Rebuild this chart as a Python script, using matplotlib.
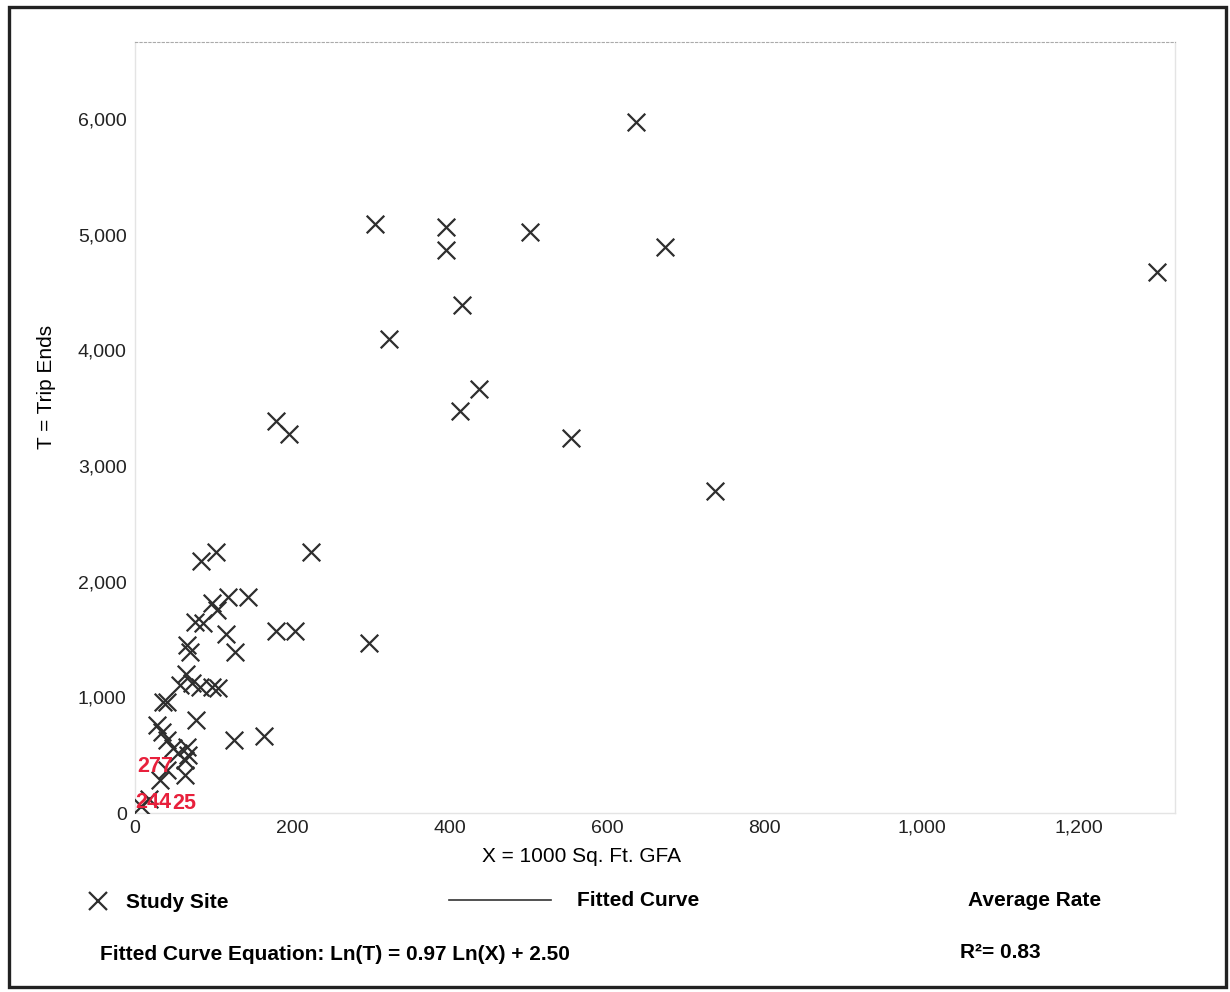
import matplotlib
matplotlib.use("Agg")
import matplotlib.pyplot as plt
from matplotlib.lines import Line2D
from matplotlib.patches import Rectangle

plt.rcParams['font.family'] = ['Liberation Sans', 'DejaVu Sans']

# study sites: X = 1000 sq. ft. GFA, T = trip ends
site_x = [637, 305, 395, 395, 502, 674, 1299, 416, 323, 437, 413, 554, 737,
          179, 196, 224, 298, 103, 84, 179, 203, 144, 118, 164, 126,
          98, 104, 76, 86, 116, 66, 70, 127, 65,
          57, 72, 83, 98, 106, 36, 41,
          78, 28, 34, 41, 48, 66, 67, 64, 64, 41, 32, 55, 8, 18]
site_t = [5972, 5091, 5065, 4866, 5022, 4892, 4676, 4391, 4097, 3665, 3474, 3241, 2783,
          3388, 3276, 2256, 1469, 2256, 2178, 1573, 1573, 1867, 1867, 666, 631,
          1815, 1755, 1651, 1642, 1547, 1452, 1392, 1392, 1200,
          1106, 1124, 1089, 1089, 1080, 959, 962,
          804, 761, 700, 631, 562, 570, 501, 458, 328, 372, 285, 520, 60, 120]

# red site id labels near the origin
id_labels = ['277', '244', '25']
id_x = [3, 0, 47]
id_y = [400, 95, 86]

x_ticks = [0, 200, 400, 600, 800, 1000, 1200]
x_ticklabels = ['0', '200', '400', '600', '800', '1,000', '1,200']
y_ticks = [0, 1000, 2000, 3000, 4000, 5000, 6000]
y_ticklabels = ['0', '1,000', '2,000', '3,000', '4,000', '5,000', '6,000']

W, H = 1230, 992
fig = plt.figure(figsize=(W / 100, H / 100), dpi=100)
ax = fig.add_axes([135 / W, 1 - 813 / H, (1175 - 135) / W, (813 - 42) / H])

ax.scatter(site_x, site_t, marker='x', s=160, color='#2e2e2e', linewidths=1.6, zorder=3)
for lab, lx, ly in zip(id_labels, id_x, id_y):
    ax.text(lx, ly, lab, color='#e8203c', fontsize=15.5, fontweight='bold',
            ha='left', va='center', zorder=4)

ax.set_xlim(0, 1322)
ax.set_ylim(0, 6664)
ax.set_xticks(x_ticks)
ax.set_xticklabels(x_ticklabels)
ax.set_yticks(y_ticks)
ax.set_yticklabels(y_ticklabels)
ax.tick_params(length=0, labelsize=14, colors='#222222')
ax.tick_params(axis='y', pad=6)
ax.tick_params(axis='x', pad=5)

for side in ['left', 'right', 'bottom']:
    ax.spines[side].set_color('#e4e4e4')
    ax.spines[side].set_linewidth(1)
ax.spines['top'].set_color('#aaaaaa')
ax.spines['top'].set_linestyle((0, (2, 2)))

fig.text(47 / W, 1 - 387 / H, 'T = Trip Ends', rotation=90, fontsize=15,
         ha='center', va='center')
fig.text(581 / W, 1 - 857 / H, 'X = 1000 Sq. Ft. GFA', fontsize=15,
         ha='center', va='center')

# legend row
fig.add_artist(Line2D([98 / W], [1 - 901 / H], marker='x', markersize=13,
                      markeredgewidth=1.6, color='#2e2e2e', transform=fig.transFigure))
fig.text(126 / W, 1 - 902 / H, 'Study Site', fontsize=15, fontweight='bold', va='center')
fig.add_artist(Line2D([449 / W, 551 / W], [1 - 900 / H, 1 - 900 / H], lw=1.2,
                      color='#333333', transform=fig.transFigure))
fig.text(577 / W, 1 - 901 / H, 'Fitted Curve', fontsize=15, fontweight='bold', va='center')
fig.text(968 / W, 1 - 901 / H, 'Average Rate', fontsize=15, fontweight='bold', va='center')
fig.text(100 / W, 1 - 954 / H, 'Fitted Curve Equation: Ln(T) = 0.97 Ln(X) + 2.50',
         fontsize=15, fontweight='bold', va='center')
fig.text(960 / W, 1 - 953 / H, 'R²= 0.83', fontsize=15, fontweight='bold', va='center')

# outer frame
fig.add_artist(Rectangle((9 / W, 1 - 987 / H), (1226 - 9) / W, (987 - 7) / H,
                         fill=False, lw=2.4, edgecolor='#222222', transform=fig.transFigure))

fig.savefig('out.png', dpi=100)
